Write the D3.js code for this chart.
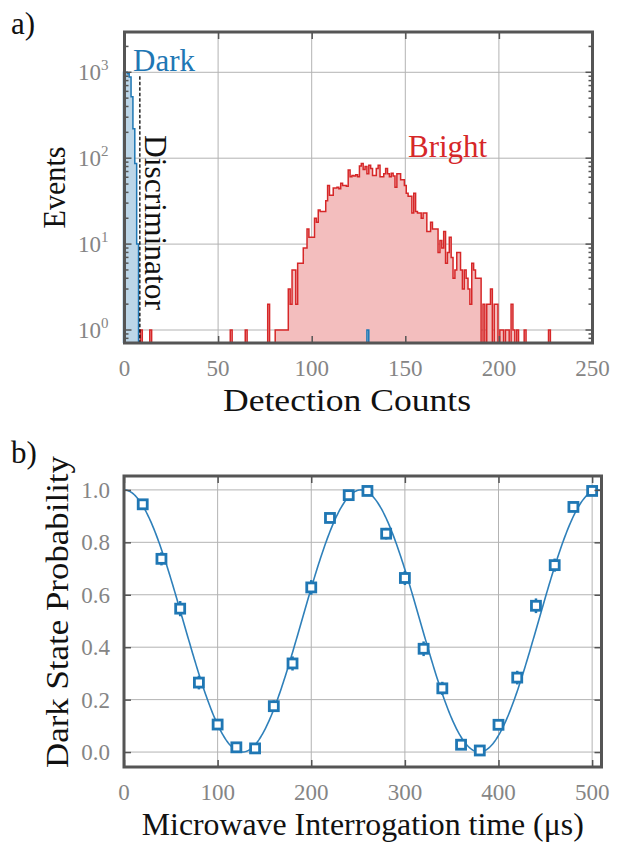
<!DOCTYPE html>
<html lang="en">
<head>
<meta charset="UTF-8">
<title>Detection histogram and Rabi oscillation</title>
<script src="https://d3js.org/d3.v7.min.js"></script>
<style>
  body { margin: 0; background: #fff; }
  svg text { font-family: "Liberation Serif", "DejaVu Serif", serif; }
  .tick-label { fill: #858585; font-size: 23px; }
  .grid line { stroke: #b3b3b3; stroke-width: 1; }
  .frame { fill: none; stroke: #555; stroke-width: 3; }
  .ticks line { stroke: #555; stroke-width: 1.5; }
  .title { font-size: 31px; fill: #111; }
</style>
</head>
<body>
<svg id="chart" width="621" height="842"></svg>
<script>
// ---------- panel a) histogram data (bins of 1 count, centred on integers) ----------
const darkBinStart = 0;
const darkCounts = [1000, 1000, 960, 880, 520, 220, 87, 10];
const darkStrayBins = [130];
const brightBinStart = 76;
const brightCounts = [
  0, 2, 0, 0, 0, 1, 1, 1, 1, 1, 1, 1, 3, 2, 5, 5, 2, 6, 6, 6,      // 76-95
  9, 9, 15, 12, 12, 12, 20, 18, 25, 24, 24, 24, 32, 48, 37, 37,    // 96-111
  45, 45, 46, 44, 51, 48, 48, 47, 73, 61, 63, 62, 64, 61, 81, 87,  // 112-127
  74, 80, 66, 83, 76, 63, 63, 76, 83, 61, 61, 66, 76, 66, 61, 67,  // 128-143
  62, 46, 66, 66, 56, 56, 48, 39, 36, 36, 23, 39, 24, 23, 23, 20,  // 144-159
  23, 23, 14, 14, 18, 15, 15, 15, 8, 11, 9, 14, 6, 8, 12, 7,       // 160-175
  4, 5, 8, 8, 5, 3, 5, 4, 3, 2, 6, 5, 4, 4, 4, 0,                  // 176-191
  2, 0, 2, 2, 3, 0, 2, 2, 0, 1, 1, 0, 1, 1, 0, 2,                  // 192-207
  1, 0, 1, 0, 0, 0, 1, 0, 0, 0, 0, 0, 0, 0, 0, 0, 0, 0, 0, 1       // 208-227
];
const brightStrayBins = [9, 14, 57, 65];
const discriminator = 8.2;
const histXTicks = [0, 50, 100, 150, 200, 250];
const histYExp = [0, 1, 2, 3];

// ---------- panel b) Rabi oscillation ----------
const rabiTimes = [20, 40, 60, 80, 100, 120, 140, 160, 180, 200, 220, 240, 260,
                   280, 300, 320, 340, 360, 380, 400, 420, 440, 460, 480, 500];
const rabiProb = [0.945, 0.737, 0.547, 0.265, 0.105, 0.018, 0.014, 0.175, 0.338, 0.628,
                  0.893, 0.980, 0.996, 0.833, 0.664, 0.394, 0.243, 0.028, 0.006, 0.104,
                  0.284, 0.558, 0.713, 0.935, 0.996];
const rabiErr = [0.013, 0.025, 0.029, 0.026, 0.018, 0.008, 0.007, 0.022, 0.027, 0.028,
                 0.018, 0.008, 0.004, 0.022, 0.027, 0.028, 0.025, 0.008, 0.005, 0.018,
                 0.026, 0.028, 0.025, 0.014, 0.004];
const rabiFit = { offset: 0.5, amplitude: 0.5, period: 253 };
const rabiXTicks = [0, 100, 200, 300, 400, 500];
const rabiYTicks = [0, 0.2, 0.4, 0.6, 0.8, 1.0];

const blue = "#1f77b4", blueFill = "#bcd6e8";
const red = "#d62728", redFill = "#f3bebe";

const svg = d3.select("#chart");

// ================= panel a =================
const A = { left: 124.5, right: 592.5, top: 32, bottom: 343 };
const xA = d3.scaleLinear().domain([0, 250]).range([A.left, A.right]);
const yA = d3.scaleLog().domain([0.706, 2944]).range([A.bottom, A.top]).clamp(true);
const yv = v => v > 0 ? yA(v) : A.bottom;

const gA = svg.append("g");

// grid
const gridA = gA.append("g").attr("class", "grid");
gridA.selectAll(".gx").data(histXTicks.slice(1, -1)).enter().append("line")
  .attr("x1", d => xA(d)).attr("x2", d => xA(d)).attr("y1", A.top).attr("y2", A.bottom);
gridA.selectAll(".gy").data(histYExp).enter().append("line")
  .attr("x1", A.left).attr("x2", A.right)
  .attr("y1", d => yA(Math.pow(10, d))).attr("y2", d => yA(Math.pow(10, d)));

// step outline for a run of bins
function stepPoints(start, counts) {
  const pts = [[start - 0.5, 0]];
  counts.forEach((c, i) => {
    pts.push([start + i - 0.5, c]);
    pts.push([start + i + 0.5, c]);
  });
  pts.push([start + counts.length - 0.5, 0]);
  return pts;
}
const stepLine = d3.line().x(d => xA(d[0])).y(d => yv(d[1]));

function drawHist(start, counts, stroke, fill) {
  const pts = stepPoints(start, counts);
  gA.append("path").attr("d", stepLine(pts) + "Z")
    .attr("fill", fill).attr("stroke", "none");
  gA.append("path").attr("d", stepLine(pts))
    .attr("fill", "none").attr("stroke", stroke).attr("stroke-width", 1.5)
    .attr("stroke-linejoin", "miter");
}

drawHist(brightBinStart, brightCounts, red, redFill);
brightStrayBins.forEach(b => drawHist(b, [1], red, redFill));
drawHist(darkBinStart, darkCounts, blue, blueFill);
darkStrayBins.forEach(b => drawHist(b, [1], blue, blueFill));

// discriminator
gA.append("line")
  .attr("x1", xA(discriminator)).attr("x2", xA(discriminator))
  .attr("y1", yA(900)).attr("y2", A.bottom)
  .attr("stroke", "#000").attr("stroke-width", 1.3).attr("stroke-dasharray", "3.5,2");

// ticks (inward) on all sides
const ticksA = gA.append("g").attr("class", "ticks");
gA.append("g").attr("class", "ticks").attr("transform", `translate(0,${A.bottom})`)
  .call(d3.axisBottom(xA).tickValues(histXTicks).tickSize(-7).tickFormat(""))
  .call(g => g.select(".domain").remove());
gA.append("g").attr("class", "ticks").attr("transform", `translate(0,${A.top})`)
  .call(d3.axisTop(xA).tickValues(histXTicks).tickSize(-7).tickFormat(""))
  .call(g => g.select(".domain").remove());

const minor = [];
histYExp.concat([-1]).forEach(e => {
  for (let m = 2; m <= 9; m++) {
    const v = m * Math.pow(10, e);
    if (v > yA.domain()[0] && v < yA.domain()[1]) minor.push(v);
  }
});
[A.left, A.right].forEach((xp, side) => {
  const dir = side === 0 ? 1 : -1;
  ticksA.selectAll(null).data(histYExp).enter().append("line")
    .attr("x1", xp).attr("x2", xp + dir * 7)
    .attr("y1", d => yA(Math.pow(10, d))).attr("y2", d => yA(Math.pow(10, d)));
  ticksA.selectAll(null).data(minor).enter().append("line")
    .attr("x1", xp).attr("x2", xp + dir * 4)
    .attr("y1", d => yA(d)).attr("y2", d => yA(d));
});

// frame
gA.append("rect").attr("class", "frame")
  .attr("x", A.left).attr("y", A.top)
  .attr("width", A.right - A.left).attr("height", A.bottom - A.top);

// tick labels
gA.selectAll(".xl").data(histXTicks).enter().append("text")
  .attr("class", "tick-label").attr("text-anchor", "middle")
  .attr("x", d => xA(d)).attr("y", A.bottom + 33).text(d => d);
const yl = gA.selectAll(".yl").data(histYExp).enter().append("text")
  .attr("class", "tick-label").attr("text-anchor", "end")
  .attr("x", A.left - 16).attr("y", d => yA(Math.pow(10, d)) + 8);
yl.append("tspan").text("10");
yl.append("tspan").attr("dy", -10).attr("font-size", 15).text(d => d);

// labels
gA.append("text").attr("class", "title").attr("x", 11).attr("y", 34).text("a)");
gA.append("text").attr("class", "title").attr("text-anchor", "middle")
  .attr("textLength", 82).attr("lengthAdjust", "spacingAndGlyphs")
  .attr("transform", `translate(65,${(A.top + A.bottom) / 2}) rotate(-90)`).text("Events");
gA.append("text").attr("class", "title").attr("text-anchor", "middle")
  .attr("textLength", 248).attr("lengthAdjust", "spacingAndGlyphs")
  .attr("x", 347).attr("y", 411).text("Detection Counts");
gA.append("text").attr("class", "title").style("fill", blue)
  .attr("x", 133).attr("y", 71).text("Dark");
gA.append("text").attr("class", "title").style("fill", red)
  .attr("x", 408).attr("y", 157).text("Bright");
gA.append("text").attr("class", "title")
  .attr("textLength", 175).attr("lengthAdjust", "spacingAndGlyphs")
  .attr("transform", `translate(145,135) rotate(90)`).text("Discriminator");

// ================= panel b =================
const B = { left: 124, right: 601.5, top: 476, bottom: 767 };
const xB = d3.scaleLinear().domain([0, 510]).range([B.left, B.right]);
const yB = d3.scaleLinear().domain([-0.057, 1.053]).range([B.bottom, B.top]);
const gB = svg.append("g");

const gridB = gB.append("g").attr("class", "grid");
gridB.selectAll(null).data(rabiXTicks.slice(1)).enter().append("line")
  .attr("x1", d => xB(d)).attr("x2", d => xB(d)).attr("y1", B.top).attr("y2", B.bottom);
gridB.selectAll(null).data(rabiYTicks).enter().append("line")
  .attr("x1", B.left).attr("x2", B.right).attr("y1", d => yB(d)).attr("y2", d => yB(d));

// fit curve
const fitT = d3.range(0, 510.5, 1);
const fitLine = d3.line()
  .x(t => xB(t))
  .y(t => yB(rabiFit.offset + rabiFit.amplitude * Math.cos(2 * Math.PI * t / rabiFit.period)));
gB.append("path").attr("d", fitLine(fitT))
  .attr("fill", "none").attr("stroke", "#2f80ba").attr("stroke-width", 1.6);

// error bars and markers
const pts = rabiTimes.map((t, i) => ({ t, p: rabiProb[i], e: rabiErr[i] }));
gB.selectAll(".err").data(pts).enter().append("line")
  .attr("x1", d => xB(d.t)).attr("x2", d => xB(d.t))
  .attr("y1", d => yB(d.p - d.e)).attr("y2", d => yB(d.p + d.e))
  .attr("stroke", blue).attr("stroke-width", 2.5);
gB.selectAll(".mk").data(pts).enter().append("rect")
  .attr("x", d => xB(d.t) - 4.5).attr("y", d => yB(d.p) - 4.5)
  .attr("width", 9).attr("height", 9)
  .attr("fill", "#fff").attr("stroke", blue).attr("stroke-width", 2.8);

// ticks
gB.append("g").attr("class", "ticks").attr("transform", `translate(0,${B.bottom})`)
  .call(d3.axisBottom(xB).tickValues(rabiXTicks).tickSize(-7).tickFormat(""))
  .call(g => g.select(".domain").remove());
gB.append("g").attr("class", "ticks").attr("transform", `translate(0,${B.top})`)
  .call(d3.axisTop(xB).tickValues(rabiXTicks).tickSize(-7).tickFormat(""))
  .call(g => g.select(".domain").remove());
gB.append("g").attr("class", "ticks").attr("transform", `translate(${B.left},0)`)
  .call(d3.axisLeft(yB).tickValues(rabiYTicks).tickSize(-7).tickFormat(""))
  .call(g => g.select(".domain").remove());
gB.append("g").attr("class", "ticks").attr("transform", `translate(${B.right},0)`)
  .call(d3.axisRight(yB).tickValues(rabiYTicks).tickSize(-7).tickFormat(""))
  .call(g => g.select(".domain").remove());

gB.append("rect").attr("class", "frame")
  .attr("x", B.left).attr("y", B.top)
  .attr("width", B.right - B.left).attr("height", B.bottom - B.top);

gB.selectAll(".xl").data(rabiXTicks).enter().append("text")
  .attr("class", "tick-label").attr("text-anchor", "middle")
  .attr("x", d => xB(d)).attr("y", B.bottom + 33).text(d => d);
gB.selectAll(".yl").data(rabiYTicks).enter().append("text")
  .attr("class", "tick-label").attr("text-anchor", "end")
  .attr("x", B.left - 14).attr("y", d => yB(d) + 8).text(d => d.toFixed(1));

gB.append("text").attr("class", "title").attr("x", 11).attr("y", 463).text("b)");
gB.append("text").attr("class", "title").attr("text-anchor", "middle")
  .attr("textLength", 312).attr("lengthAdjust", "spacingAndGlyphs")
  .attr("transform", `translate(68,612) rotate(-90)`).text("Dark State Probability");
gB.append("text").attr("class", "title").attr("text-anchor", "middle")
  .attr("textLength", 442).attr("lengthAdjust", "spacingAndGlyphs")
  .attr("x", (B.left + B.right) / 2).attr("y", 835)
  .text("Microwave Interrogation time (\u03BCs)");
</script>
</body>
</html>
